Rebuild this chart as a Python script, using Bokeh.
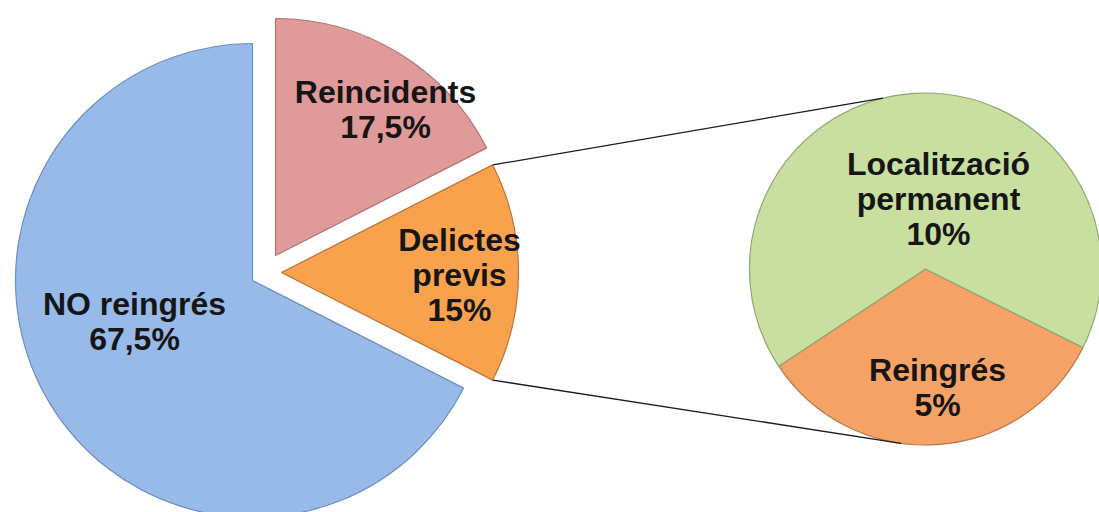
import math
from bokeh.plotting import figure
from bokeh.models import Range1d
from bokeh.core.properties import value
from bokeh.embed import file_html
from bokeh.resources import INLINE

# ---------------- data ----------------
main_labels = ["NO reingrés", "Delictes previs", "Reincidents"]
main_values = [67.5, 15.0, 17.5]
main_texts = [["NO reingrés", "67,5%"], ["Delictes", "previs", "15%"], ["Reincidents", "17,5%"]]

sub_labels = ["Reingrés", "Localització permanent"]
sub_values = [5.0, 10.0]
sub_texts = [["Reingrés", "5%"], ["Localització", "permanent", "10%"]]

# ---------------- layout / style ----------------
W, H = 1099, 512
MAIN_R = 237
MAIN_CENTERS = [(252, 232), (281, 240), (275, 257)]   # exploded slice vertices
MAIN_START = 90.0
MAIN_COLORS = ["#97BAE8", "#F9A24E", "#DF9A99"]
MAIN_LINES = ["#6F8FBF", "#B8733A", "#B07474"]
MAIN_LABEL_POS = [(134, 191), (459, 238), (385, 403)]

SUB_C = (925, 243.5)
SUB_R = 176
SUB_START = 213.5
SUB_COLORS = ["#F5A266", "#C9DFA0"]
SUB_LINES = ["#B8784A", "#8FA870"]
SUB_LABEL_POS = [(937, 125), (938, 314)]
CONNECT_ANGLES = [104.0, 262.0]

FONT = "Liberation Sans"
FSIZE = "32px"
LINE_H = 35

p = figure(width=W, height=H, output_backend="svg", toolbar_location=None,
           x_range=Range1d(0, W), y_range=Range1d(0, H),
           x_axis_type=None, y_axis_type=None, min_border=0,
           background_fill_color="white", border_fill_color="white")
p.outline_line_color = None
p.grid.visible = False

# main pie
ang = MAIN_START
main_angles = []
for v in main_values:
    a = v / sum(main_values) * 360.0
    main_angles.append((ang, ang + a))
    ang += a

for i, (s, e) in enumerate(main_angles):
    cx, cy = MAIN_CENTERS[i]
    p.wedge(x=[cx], y=[cy], radius=MAIN_R,
            start_angle=[math.radians(s)], end_angle=[math.radians(e)],
            direction="anticlock",
            fill_color=MAIN_COLORS[i], line_color=MAIN_LINES[i], line_width=1.2)

# secondary pie
ang = SUB_START
sub_angles = []
for v in sub_values:
    a = v / sum(sub_values) * 360.0
    sub_angles.append((ang, ang + a))
    ang += a
for i, (s, e) in enumerate(sub_angles):
    p.wedge(x=[SUB_C[0]], y=[SUB_C[1]], radius=SUB_R,
            start_angle=[math.radians(s)], end_angle=[math.radians(e)],
            direction="anticlock",
            fill_color=SUB_COLORS[i], line_color=SUB_LINES[i], line_width=1.2)

# connector lines from the aggregated slice to the secondary pie
agg = main_labels.index("Delictes previs")
ocx, ocy = MAIN_CENTERS[agg]
s, e = main_angles[agg]
corner_angles = [e, s]
for ca, ta in zip(corner_angles, CONNECT_ANGLES):
    x0 = ocx + MAIN_R * math.cos(math.radians(ca))
    y0 = ocy + MAIN_R * math.sin(math.radians(ca))
    x1 = SUB_C[0] + SUB_R * math.cos(math.radians(ta))
    y1 = SUB_C[1] + SUB_R * math.sin(math.radians(ta))
    p.line(x=[x0, x1], y=[y0, y1], line_color="#1a1a1a", line_width=1.3)

def draw_label(lines, pos):
    x, yc = pos
    n = len(lines)
    for k, t in enumerate(lines):
        y = yc + (n - 1) / 2 * LINE_H - k * LINE_H
        p.text(x=[x], y=[y], text=[t], text_font=value(FONT), text_font_size=FSIZE,
               text_font_style="bold", text_color="#161616",
               text_align="center", text_baseline="middle")

for t, pos in zip(main_texts, MAIN_LABEL_POS):
    draw_label(t, pos)
for t, pos in zip(sub_texts, SUB_LABEL_POS):
    draw_label(t, pos)

open("out.html", "w").write(file_html(p, INLINE))
